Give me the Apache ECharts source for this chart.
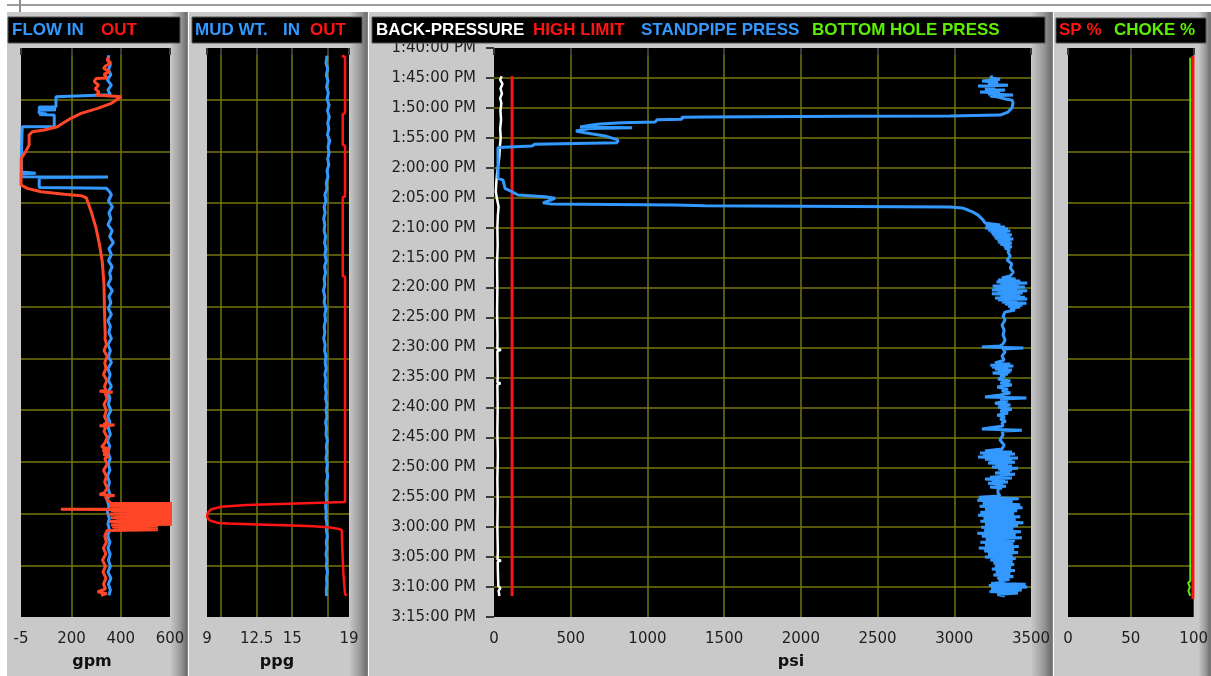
<!DOCTYPE html>
<html><head><meta charset="utf-8">
<script src="https://cdn.jsdelivr.net/npm/echarts@6/dist/echarts.min.js"></script>
<style>html,body{margin:0;padding:0;background:#fff}#c{width:1211px;height:676px}</style>
</head><body><div id="c"></div>
<script>
// ---------- DATA (time = minutes after 1:40:00 PM) ----------
const timeLabels = ['1:40:00 PM','1:45:00 PM','1:50:00 PM','1:55:00 PM','2:00:00 PM','2:05:00 PM','2:10:00 PM','2:15:00 PM','2:20:00 PM','2:25:00 PM','2:30:00 PM','2:35:00 PM','2:40:00 PM','2:45:00 PM','2:50:00 PM','2:55:00 PM','3:00:00 PM','3:05:00 PM','3:10:00 PM','3:15:00 PM'];
const flowTicks = [-5, 200, 400, 600];
const mudTicks = [9, 10, 12.5, 15, 17.5, 19];
const mudLabels = [9, 12.5, 15, 19];

// [minute, gpm]
const flowIn = [[1.2,352],[2.0,348],[2.8,358],[3.6,350],[4.5,360],[5.3,345],[6.2,362],[7.0,348],[7.8,358],[8.1,350],[8.15,137],[9.8,137],[9.85,69],[10.2,69],[10.3,137],[10.4,69],[10.9,69],[11.0,100],[11.1,69],[11.2,130],[13.1,130],[13.15,0],[13.4,-3],[17,-3],[20.7,-3],[20.9,55],[21.0,-3],[21.5,-3],[21.55,348],[21.65,69],[23.3,69],[23.4,341],[24.0,355],
[24.5,362],[25.5,350],[26.5,366],[27.5,352],[28.5,360],[29.5,348],[30.5,365],[31.5,355],[32.5,370],[33.5,352],[34.5,362],[35.5,350],[36.5,365],[37.5,355],[38.5,360],[39.5,348],[40.5,366],[41.5,352],[42.5,360],[43.5,350],[44.5,362],[45.5,348],[46.5,358],[47.5,352],[48.5,362],[49.5,348],[50.5,358],[51.5,350],[52.5,362],[53.5,348],[54.5,357],[55.5,350],[56.5,362],[57.5,347],[58.5,356],[59.5,350],[60.5,360],[61.5,348],[62.5,356],[63.5,350],[64.5,358],[65.5,346],[66.5,355],[67.5,348],[68.5,357],[69.5,350],[70.5,356],[71.5,346],[72.5,354],[73.5,348],[74.5,356],[75.5,345],[76.5,352],[77.5,346],[78.5,354],[79.5,348],[80.5,355],[81.5,347],[82.5,356],[83.5,348],[84.5,357],[85.5,350],[86.5,358],[87.5,348],[88.5,360],[89.5,350],[90.5,358],[91.4,352]];

const flowOut = [[1.45,350],[2.0,345],[2.5,360],[3.0,338],[3.4,330],[3.9,355],[4.4,332],[5.0,345],[5.1,300],[5.6,292],[6.2,310],[6.8,296],[7.4,312],[7.85,300],[8.0,360],[8.13,402],[9.24,362],[10.07,306],[10.91,239],[11.74,198],[12.41,171],[13.14,143],[13.69,89],[13.97,41],[14.53,28],[16.2,28],[17.31,14],[18.42,-4],[22.87,-5],[23.43,21],[24.0,76],[24.43,171],[24.66,239],[25.0,260],[25.66,266],[27.33,280],[30.11,300],[32.89,314],[35.68,325],[39.57,332],[44.03,334],[47.92,337],
[48.5,336],[49.5,342],[50.5,332],[51.5,345],[52.5,335],[53.5,340],[54.5,330],[55.5,344],[56.5,334],[57.2,340],[57.3,314],[57.45,367],[57.6,336],[58.5,345],[59.5,332],[60.5,342],[61.5,334],[62.5,345],[62.85,330],[62.95,375],[63.05,314],[63.2,340],[64.0,332],[65.0,345],[66.0,335],[66.6,322],[66.9,355],[67.2,326],[67.5,352],[67.8,330],[68.2,350],[68.5,335],[69.5,345],[70.5,330],[71.5,342],[72.5,335],[73.5,345],[74.3,332],[74.55,314],[74.7,375],[74.85,338],[75.5,345],[76.0,360],
[76.05,650],[76.15,370],[76.3,650],[76.45,355],[76.6,650],[76.75,380],[76.9,650],[77.0,157],[77.1,650],[77.25,360],[77.4,650],[77.55,370],[77.7,650],[77.85,350],[78.0,650],[78.15,375],[78.3,650],[78.45,360],[78.6,650],[78.75,380],[78.9,650],[79.05,355],[79.2,650],[79.35,370],[79.5,650],[79.65,360],[79.8,551],[79.95,365],[80.1,551],[80.25,370],[80.45,551],[80.55,345],
[81.5,335],[82.5,342],[83.5,330],[84.5,340],[85.5,326],[86.5,338],[87.5,328],[88.5,340],[89.5,330],[90.3,338],[90.8,306],[91.1,343],[91.4,320]];

// [minute, ppg]
const mudIn = [[1.3,17.45],[2.5,17.38],[3.5,17.5],[4.5,17.4],[5.5,17.52],[6.5,17.42],[7.5,17.55],[8.5,17.45],[9.5,17.6],[10.5,17.48],[11.5,17.62],[12.5,17.5],[13.5,17.58],[14.5,17.48],[15.5,17.65],[16.5,17.52],[17.5,17.6],[18.5,17.5],[19.5,17.58],[20.5,17.45],[21.5,17.52],[22.5,17.4],[23.5,17.45],[24.5,17.3],[25.5,17.38],[26.5,17.25],[27.5,17.32],[28.5,17.22],[29.5,17.3],[30.5,17.25],[31.5,17.35],[32.5,17.28],[33.5,17.38],[34.5,17.3],[35.5,17.4],[36.5,17.28],[37.5,17.35],[38.5,17.25],[39.5,17.3],[40.5,17.2],[41.5,17.3],[42.5,17.25],[43.5,17.38],[44.5,17.3],[45.5,17.35],[46.5,17.25],[47.5,17.3],[48.5,17.22],[49.5,17.32],[50.5,17.28],[51.5,17.38],[52.5,17.32],[53.5,17.4],[54.5,17.3],[55.5,17.38],[56.5,17.32],[57.5,17.4],[58.5,17.35],[59.5,17.45],[60.5,17.38],[61.5,17.45],[62.5,17.35],[63.5,17.42],[64.5,17.38],[65.5,17.48],[66.5,17.4],[67.5,17.45],[68.5,17.38],[69.5,17.48],[70.5,17.42],[71.5,17.5],[72.5,17.4],[73.5,17.45],[74.5,17.38],[75.5,17.42],[76.5,17.35],[77.5,17.4],[78.5,17.38],[79.5,17.45],[80.5,17.4],[81.5,17.48],[82.5,17.4],[83.5,17.45],[84.5,17.38],[85.5,17.45],[86.5,17.4],[87.5,17.48],[88.5,17.42],[89.5,17.45],[90.5,17.4],[91.5,17.42]];

const mudOut = [[1.3,18.5],[1.5,18.72],[10.9,18.72],[11.0,18.56],[16.2,18.56],[16.3,18.72],[24.8,18.72],[24.9,18.56],[38.1,18.56],[38.2,18.72],[75.8,18.72],[75.9,17.5],[76.05,15.3],[76.3,11.8],[76.6,10.0],[77.0,9.3],[77.6,9.05],[78.3,9.0],[78.9,9.2],[79.3,9.8],[79.4,10.5],[79.55,12.5],[79.7,14.5],[79.85,16.5],[80.05,17.7],[80.3,18.3],[80.55,18.5],[82.0,18.5],[82.1,18.6],[87.5,18.6],[87.6,18.68],[91.2,18.72],[91.4,18.85]];

// [minute, psi]
const backPressure = [[4.7,50],[5.3,40],[6.0,55],[6.8,42],[7.6,52],[8.4,40],[9.2,48],[10.5,42],[12,46],[13.5,40],[15,44],[16.5,38],[18,35],[19.5,28],[21,20],[22.5,15],[24,12],[25,18],[26.5,30],[28,25],[30,22],[33,24],[36,20],[40,22],[44,20],[48,23],[50.2,22],[50.4,45],[50.6,22],[55,24],[55.8,22],[56,42],[56.2,22],[60,24],[64,22],[68,25],[72,22],[76,24],[80,22],[84,25],[85.4,23],[85.6,45],[85.8,24],[88,26],[89.8,28],[90.2,42],[90.6,30],[91.5,35]];
const highLimit = [[4.7,118],[91.5,118]];
const standpipe = [[4.7,3252],[5.0,3233],[5.2,3298],[5.5,3181],[5.7,3285],[6.0,3220],[6.2,3350],[6.35,3155],[6.5,3266],[6.85,3200],[7.0,3331],[7.35,3168],[7.5,3298],[7.7,3220],[7.85,3383],[8.0,3233],[8.2,3285],[8.5,3331],[8.7,3376],[9.2,3383],[10.0,3376],[10.7,3350],[11.2,3298],[11.35,2972],[11.4,2320],[11.5,1375],[11.55,1225],[11.9,1225],[12.0,1062],[12.35,1050],[12.5,834],[12.7,691],[12.85,639],[13.2,561],[13.3,900],[13.45,626],[13.85,534],[14.15,593],[14.7,724],[15.35,808],[15.8,802],[16.05,267],[16.35,248],[16.6,26],[18.7,26],[21.75,26],[22.05,59],[23.45,72],[24.0,117],[24.55,156],[24.85,332],[25.1,398],[25.85,319],[26.05,378],[26.2,1180],[26.35,1375],[26.45,2320],[26.55,2972],[26.7,3050],[27.05,3090],[27.4,3122],[27.9,3155],[28.7,3187],[29.2,3200],
[29.4,3195],[29.55,3300],[29.7,3205],[29.9,3330],[30.05,3200],[30.2,3350],[30.4,3220],[30.55,3365],[30.7,3235],[30.9,3345],[31.05,3245],[31.2,3375],[31.4,3255],[31.55,3365],[31.75,3265],[31.9,3385],[32.05,3280],[32.2,3365],[32.4,3285],[32.55,3375],[32.75,3300],[32.9,3365],[33.05,3320],[33.2,3375],[33.4,3330],[33.7,3360],
[34.05,3350],[34.75,3365],[35.4,3345],[36.05,3375],[36.75,3365],[37.4,3385],[38.05,3365],
[38.4,3310],[38.55,3400],[38.75,3285],[38.9,3430],[39.05,3275],[39.25,3475],[39.4,3300],[39.6,3420],[39.75,3250],[39.9,3460],[40.05,3260],[40.25,3410],[40.4,3245],[40.55,3475],[40.75,3280],[40.9,3445],[41.05,3245],[41.25,3430],[41.4,3300],[41.6,3460],[41.75,3265],[41.9,3475],[42.05,3285],[42.25,3410],[42.4,3310],[42.6,3470],[42.75,3330],[42.9,3445],[43.1,3350],[43.25,3430],[43.4,3365],[43.75,3395],
[44.1,3330],[44.75,3318],[45.4,3331],[46.25,3311],[47.1,3325],[47.9,3318],[48.75,3331],[49.4,3318],
[49.75,3298],[49.9,3180],[50.1,3450],[50.25,3318],
[50.75,3331],[51.45,3311],[52.1,3325],
[52.6,3265],[52.75,3365],[52.95,3235],[53.1,3385],[53.25,3245],[53.45,3350],[53.6,3265],[53.75,3375],[53.95,3285],[54.1,3365],[54.25,3250],[54.45,3350],[54.6,3300],[54.9,3330],
[55.25,3285],[55.6,3365],[55.95,3300],[56.25,3375],[56.6,3280],[56.95,3350],[57.25,3310],[57.6,3365],[57.95,3300],
[58.25,3200],[58.45,3470],[58.6,3300],
[58.95,3350],[59.3,3265],[59.6,3365],[59.95,3285],[60.3,3375],[60.6,3300],[60.95,3350],[61.3,3280],[61.6,3330],[61.95,3300],[62.3,3335],[62.6,3311],[63.1,3318],
[63.6,3180],[63.8,3440],[63.95,3311],
[64.6,3318],[65.45,3298],[66.3,3325],[66.95,3311],
[67.3,3200],[67.45,3376],[67.6,3168],[67.8,3396],[67.95,3187],[68.1,3363],[68.3,3155],[68.45,3415],[68.65,3200],[68.8,3376],[68.95,3233],[69.15,3396],[69.3,3220],[69.45,3350],[69.65,3266],[69.8,3376],[69.95,3246],[70.15,3415],[70.3,3285],[70.45,3376],[70.65,3298],[70.8,3363],[70.95,3266],[71.15,3396],[71.3,3298],[71.45,3350],[71.65,3233],[71.8,3376],[71.95,3200],[72.15,3331],[72.3,3246],[72.45,3350],[72.65,3220],[72.8,3318],[72.95,3266],[73.15,3337],[73.3,3233],[73.45,3311],[73.65,3285],[73.8,3298],
[74.3,3285],[74.8,3298],
[75.0,3160],[75.25,3420],[75.5,3150],[75.75,3380],[76.0,3185],[76.25,3430],[76.5,3165],[76.75,3445],[77.0,3200],[77.25,3410],[77.5,3170],[77.75,3390],[78.0,3155],[78.25,3430],[78.5,3190],[78.75,3400],[79.0,3170],[79.25,3450],[79.5,3200],[79.75,3415],[80.0,3175],[80.25,3385],[80.5,3195],[80.75,3435],[81.0,3150],[81.25,3400],[81.5,3180],[81.75,3440],[82.0,3205],[82.25,3395],[82.5,3170],[82.75,3385],[83.0,3200],[83.25,3420],[83.5,3160],[83.75,3390],[84.0,3195],[84.25,3415],[84.5,3220],[84.75,3380],[85.0,3200],[85.25,3400],[85.5,3235],[85.75,3380],[86.0,3255],[86.25,3390],[86.5,3265],[86.75,3370],[87.0,3245],[87.25,3395],[87.5,3270],[87.75,3365],[88.0,3255],[88.25,3385],[88.5,3280],[88.75,3360],[89.0,3290],[89.25,3330],
[89.4,3240],[89.55,3465],[89.75,3225],[90.0,3475],[90.25,3240],[90.5,3440],[90.75,3230],[91.0,3415],[91.25,3280],[91.5,3330]];

// [minute, %]
const chokePct = [[1.6,97.3],[73.5,97.3],[73.7,95.8],[74.0,97.3],[80.0,97.3],[80.3,96.0],[80.8,97.3],[86.5,97.3],[86.8,95.8],[87.2,97.3],[89.0,97.3],[89.3,95.6],[90.0,97.0],[90.6,95.8],[91.5,97.3]];
const spPct = [[1.3,99.4],[92.0,99.4]];

// ---------- STYLE ----------
const BLUE = '#3399ff', RED = '#ff1414', ORANGE = '#ff4626', GREEN = '#5cf000', OLIVE = '#76760c';
const TICKFONT = {color:'#1e1e1e', fontFamily:'DejaVu Sans', fontSize:15};
const split = {show:true, showMinLine:false, showMaxLine:false, lineStyle:{color:OLIVE, width:1.5}};
const tickStyle = {color:'#3a3a3a', width:2};
const plainNum = v => String(v);

const grids = [
  {left:21, top:48, width:149, height:569},
  {left:207, top:48, width:142, height:569},
  {left:494, top:48, width:537, height:569},
  {left:1068, top:48, width:130, height:569}
].map(g => Object.assign({show:true, backgroundColor:'#000', borderWidth:0}, g));

function xAxis(idx, min, max, opts) {
  return Object.assign({
    gridIndex: idx, type:'value', min, max, offset:3,
    axisLine:{show:false},
    axisTick:Object.assign({show:true, length:7, lineStyle:tickStyle}, opts.tick || {}),
    axisLabel:Object.assign({margin:12, formatter:plainNum}, TICKFONT, opts.label || {}),
    splitLine: split
  }, opts.extra || {});
}
function sideY(idx) {
  return {gridIndex:idx, type:'value', min:0, max:95, interval:95/11, inverse:true,
    axisLine:{show:false}, axisTick:{show:false}, axisLabel:{show:false}, splitLine:split};
}

const xAxes = [
  xAxis(0, -5, 600, {tick:{customValues:flowTicks}, label:{customValues:flowTicks}}),
  xAxis(1, 9, 19, {tick:{customValues:mudTicks}, label:{customValues:mudLabels}}),
  xAxis(2, 0, 3500, {extra:{interval:500}}),
  xAxis(3, 0, 100, {extra:{interval:50}})
];
const yAxes = [
  sideY(0), sideY(1),
  {gridIndex:2, type:'value', min:0, max:95, interval:5, inverse:true, offset:5,
   axisLine:{show:false}, axisTick:{show:true, length:8, lineStyle:tickStyle},
   axisLabel:Object.assign({margin:13, formatter:v => timeLabels[Math.round(v/5)]}, TICKFONT),
   splitLine:split},
  sideY(3)
];

function line(data, xi, color, width, z) {
  return {type:'line', xAxisIndex:xi, yAxisIndex:xi, data:data.map(p => [p[1], p[0]]),
    symbol:'none', showSymbol:false, clip:true, silent:true, animation:false, z:z||2,
    lineStyle:{color, width}, emphasis:{disabled:true}};
}

const series = [
  line(flowIn, 0, BLUE, 3, 2),
  line(flowOut, 0, ORANGE, 3, 3),
  line(mudIn, 1, BLUE, 3, 2),
  line(mudOut, 1, RED, 2.5, 3),
  line(backPressure, 2, '#ffffff', 2.5, 2),
  line(highLimit, 2, RED, 3, 3),
  line(standpipe, 2, BLUE, 3, 4),
  line(chokePct, 3, GREEN, 2, 2),
  line(spPct, 3, RED, 3, 3)
];

// ---------- DECORATION ----------
function bevel(x, w) {
  return {type:'rect', z:-9, shape:{x, y:12, width:w, height:664}, silent:true,
    style:{fill:{type:'linear', x:0, y:0, x2:1, y2:0,
      colorStops:[{offset:0, color:'#c4c4c4'},{offset:0.55, color:'#9a9a9a'},{offset:0.9, color:'#707070'},{offset:1, color:'#858585'}]}}};
}
function rect(x, y, w, h, fill, z, stroke) {
  return {type:'rect', z:z, silent:true, shape:{x, y, width:w, height:h}, style:{fill, stroke:stroke||null, lineWidth:stroke?1:0}};
}
function ttl(x, text, color) {
  return {type:'text', z:10, silent:true, x, y:30,
    style:{text, fill:color, fontFamily:'Liberation Sans', fontWeight:'bold', fontSize:17, verticalAlign:'middle', align:'left'}};
}
function unit(x, text) {
  return {type:'text', z:10, silent:true, x, y:662,
    style:{text, fill:'#111', fontFamily:'DejaVu Sans', fontWeight:'bold', fontSize:16, verticalAlign:'middle', align:'center'}};
}

const graphic = [
  rect(7, 4, 1204, 2, '#9c9c9c', -10),
  rect(19, 0, 2, 15, '#8c8c8c', -10),
  rect(7, 12, 181, 664, '#c9c9c9', -10),
  rect(189, 12, 179, 664, '#c9c9c9', -10),
  rect(369, 12, 684, 664, '#c9c9c9', -10),
  rect(1054, 12, 157, 664, '#c9c9c9', -10),
  bevel(171, 17), bevel(350, 18), bevel(1032, 21), bevel(1199, 12),
  rect(8, 17, 172, 26, '#000', 5, '#555'),
  rect(192, 17, 170, 26, '#000', 5, '#555'),
  rect(372, 17, 673, 26, '#000', 5, '#555'),
  rect(1056, 18, 150, 25, '#000', 5, '#555'),
  ttl(12, 'FLOW IN', BLUE), ttl(101, 'OUT', RED),
  ttl(195, 'MUD WT.', BLUE), ttl(283, 'IN', BLUE), ttl(310, 'OUT', RED),
  ttl(376, 'BACK-PRESSURE', '#ffffff'), ttl(533, 'HIGH LIMIT', RED), ttl(641, 'STANDPIPE PRESS', BLUE), ttl(812, 'BOTTOM HOLE PRESS', GREEN),
  ttl(1059, 'SP %', RED), ttl(1114, 'CHOKE %', GREEN),
  unit(92, 'gpm'), unit(277, 'ppg'), unit(791, 'psi')
];

const chart = echarts.init(document.getElementById('c'), null, {renderer:'canvas'});
chart.setOption({
  backgroundColor:'#ffffff', animation:false,
  grid:grids, xAxis:xAxes, yAxis:yAxes, series, graphic
});
</script></body></html>
